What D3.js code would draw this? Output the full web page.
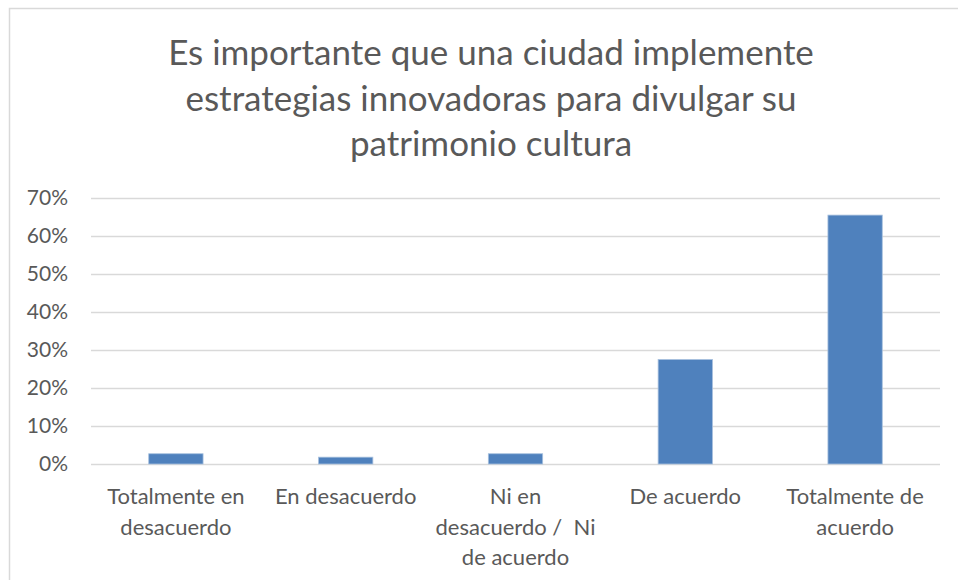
<!DOCTYPE html>
<meta charset="utf-8">
<script src="https://d3js.org/d3.v7.min.js"></script>
<style>
  body { margin: 0; background: #fff; }
  text { font-family: Lato, "Open Sans", sans-serif; fill: #595959; }
</style>
<svg id="chart" width="958" height="580"></svg>
<script>

// data
var titleLines = ["Es importante que una ciudad implemente",
                  "estrategias innovadoras para divulgar su",
                  "patrimonio cultura"];
var categories = ["Totalmente en\ndesacuerdo",
                  "En desacuerdo",
                  "Ni en\ndesacuerdo /  Ni\nde acuerdo",
                  "De acuerdo",
                  "Totalmente de\nacuerdo"];
var values = [0.027, 0.018, 0.027, 0.275, 0.655];
var yTicks = [0, 0.1, 0.2, 0.3, 0.4, 0.5, 0.6, 0.7];

var svg = d3.select("#chart"),
    width = +svg.attr("width"),
    height = +svg.attr("height");

// chart frame (only top and left edges show in the crop)
svg.append("path")
    .attr("d", "M9.5," + height + "V8.5H" + width)
    .attr("fill", "none")
    .attr("stroke", "#d9d9d9")
    .attr("stroke-width", 1.5);

// title
svg.append("text")
    .attr("text-anchor", "middle")
    .style("font-size", "35px")
  .selectAll("tspan")
  .data(titleLines)
  .enter()
  .append("tspan")
    .attr("x", 491)
    .attr("y", function(d, i) { return 65 + i * 45.5; })
    .text(function(d) { return d; });

var margin = {left: 91, right: 18, top: 198, bottom: 116};

var x = d3.scaleBand()
    .domain(categories)
    .range([margin.left, width - margin.right])
    .paddingInner(0.68)
    .paddingOuter(0.34);

var y = d3.scaleLinear()
    .domain([0, 0.7])
    .range([height - margin.bottom, margin.top]);

// gridlines
svg.append("g")
  .selectAll("line")
  .data(yTicks)
  .enter()
  .append("line")
    .attr("x1", margin.left)
    .attr("x2", width - margin.right)
    .attr("y1", function(d) { return Math.round(y(d)) + 0.5; })
    .attr("y2", function(d) { return Math.round(y(d)) + 0.5; })
    .attr("stroke", "#d9d9d9")
    .attr("stroke-width", 1.5);

// y labels
var yAxis = svg.append("g")
    .attr("transform", "translate(" + (margin.left - 8) + ",0)")
    .call(d3.axisLeft(y).tickValues(yTicks).tickFormat(d3.format(".0%")).tickSize(0).tickPadding(15));
yAxis.select(".domain").remove();
yAxis.selectAll("text")
    .style("font-size", "21px")
    .attr("fill", null);

// bars
svg.append("g")
  .selectAll("rect")
  .data(values)
  .enter()
  .append("rect")
    .attr("x", function(d, i) { return x(categories[i]); })
    .attr("y", function(d) { return y(d); })
    .attr("width", x.bandwidth())
    .attr("height", function(d) { return y(0) - y(d); })
    .attr("fill", "#4f81bd")
    .attr("stroke", "#a7c0de")
    .attr("stroke-width", 0.8);

// category labels
svg.append("g")
  .selectAll("text")
  .data(categories)
  .enter()
  .append("text")
    .attr("text-anchor", "middle")
    .style("font-size", "22px")
  .each(function(d) {
    var cx = x(d) + x.bandwidth() / 2;
    d3.select(this).selectAll("tspan")
      .data(d.split("\n"))
      .enter()
      .append("tspan")
        .attr("x", cx)
        .attr("y", function(t, i) { return 504 + i * 30.5; })
        .style("white-space", "pre")
        .text(function(t) { return t; });
  });

</script>
